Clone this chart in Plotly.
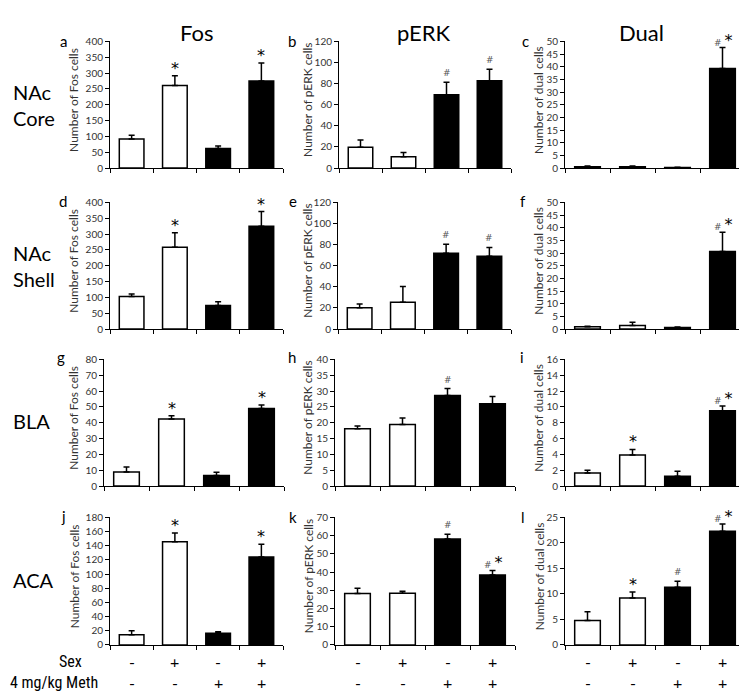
import plotly.graph_objects as go

W, H = 747, 694

# ---------------- data ----------------
groups = [0, 1, 2, 3]
sex_signs = ['-', '+', '-', '+']
meth_signs = ['-', '-', '+', '+']

col_titles = ['Fos', 'pERK', 'Dual']
row_titles = ['NAc<br>Core', 'NAc<br>Shell', 'BLA', 'ACA']
panel_letters = ['a', 'b', 'c', 'd', 'e', 'f', 'g', 'h', 'i', 'j', 'k', 'l']
y_titles = ['Number of Fos cells', 'Number of pERK cells', 'Number of dual cells']

fos_core = [92, 261, 62, 275]
fos_core_err = [12, 31, 8, 57]
perk_core = [19.8, 10.8, 69.6, 82.9]
perk_core_err = [6.8, 4.0, 11.7, 10.8]
dual_core = [0.5, 0.5, 0.2, 39.3]
dual_core_err = [0.3, 0.3, 0.1, 8.3]

fos_shell = [103, 258, 74, 325]
fos_shell_err = [8, 46, 12, 46]
perk_shell = [20.1, 25.4, 71.8, 69.0]
perk_shell_err = [3.7, 14.8, 8.6, 8.3]
dual_shell = [0.9, 1.4, 0.6, 30.6]
dual_shell_err = [0.2, 1.3, 0.2, 7.6]

fos_bla = [8.9, 42.4, 6.6, 49.0]
fos_bla_err = [3.1, 2.0, 2.1, 2.2]
perk_bla = [18.1, 19.4, 28.6, 26.0]
perk_bla_err = [0.9, 2.1, 2.2, 2.3]
dual_bla = [1.65, 3.93, 1.24, 9.5]
dual_bla_err = [0.35, 0.7, 0.62, 0.6]

fos_aca = [14.4, 145.6, 16.7, 124]
fos_aca_err = [5.6, 12.4, 1.9, 18]
perk_aca = [28.2, 28.4, 58.2, 38.4]
perk_aca_err = [2.9, 1.1, 2.5, 2.5]
dual_aca = [4.8, 9.2, 11.3, 22.3]
dual_aca_err = [1.7, 1.2, 1.2, 1.4]

y_max = [400, 120, 50, 400, 120, 50, 80, 40, 16, 180, 70, 25]
y_step = [50, 20, 5, 50, 20, 5, 10, 5, 2, 20, 10, 5]

marks_a = ['', '*', '', '*']
marks_b = ['', '', '#', '#']
marks_c = ['', '', '', '#*']
marks_d = ['', '*', '', '*']
marks_e = ['', '', '#', '#']
marks_f = ['', '', '', '#*']
marks_g = ['', '*', '', '*']
marks_h = ['', '', '#', '']
marks_i = ['', '*', '', '#*']
marks_j = ['', '*', '', '*']
marks_k = ['', '', '#', '#*']
marks_l = ['', '*', '#', '#*']

panels = [
    (fos_core, fos_core_err, marks_a), (perk_core, perk_core_err, marks_b), (dual_core, dual_core_err, marks_c),
    (fos_shell, fos_shell_err, marks_d), (perk_shell, perk_shell_err, marks_e), (dual_shell, dual_shell_err, marks_f),
    (fos_bla, fos_bla_err, marks_g), (perk_bla, perk_bla_err, marks_h), (dual_bla, dual_bla_err, marks_i),
    (fos_aca, fos_aca_err, marks_j), (perk_aca, perk_aca_err, marks_k), (dual_aca, dual_aca_err, marks_l),
]

# ---------------- layout (pixels) ----------------
x_px = [
    [(102, 275), (331, 503), (557, 737)],
    [(102, 275), (330, 503), (557, 737)],
    [(96, 276), (327, 507), (557, 737)],
    [(102, 275), (327, 507), (557, 737)],
]
y_px = [(27, 156), (191, 320), (351, 480), (512, 642)]
letter_px = [
    [(55, 27), (284, 27), (517, 27)],
    [(55, 190), (285, 190), (515, 190)],
    [(53, 349), (284, 349), (514, 349)],
    [(55, 511), (285, 512), (515, 512)],
]
row_title_y = [92, 256, 414, 576]
ytitle_x = [66, 300, 531]

FONT = 'Lato, "Open Sans", sans-serif'
NARROW = '"Liberation Sans Narrow", "Roboto Condensed", Lato, sans-serif'
TXT = '#222'

fig = go.Figure()
layout = dict(
    width=W, height=H, margin=dict(l=0, r=0, t=0, b=0),
    paper_bgcolor='white', plot_bgcolor='white', showlegend=False,
    font=dict(family=FONT, color=TXT), barmode='overlay',
)
annotations = []

def px_x(v):
    return v / W

def px_y(v):
    return 1 - v / H

bar_colors = ['white', 'white', 'black', 'black']
STAR = '<span style="font-family:DejaVu Sans;font-size:16px;color:#000">*</span>'
HASH = '<span style="font-family:DejaVu Sans;font-size:9px;color:#555">#</span>'

for p, (vals, errs, marks) in enumerate(panels):
    r, c = divmod(p, 3)
    sfx = '' if p == 0 else str(p + 1)
    xa, ya = 'x' + sfx, 'y' + sfx
    fig.add_trace(go.Bar(
        x=groups, y=vals, width=0.57, xaxis=xa, yaxis=ya,
        marker=dict(color=bar_colors, line=dict(color='black', width=1.5)),
        error_y=dict(type='data', symmetric=False, array=errs, arrayminus=[0] * 4,
                     color='black', thickness=1.5, width=3),
        hoverinfo='skip',
    ))
    x0, x1 = x_px[r][c]
    yt, yb = y_px[r]
    layout['xaxis' + sfx] = dict(
        domain=[px_x(x0), px_x(x1)], anchor=ya, range=[-0.5, 3.5],
        tickmode='array', tickvals=[-0.5, 0.5, 1.5, 2.5, 3.5], showticklabels=False,
        ticks='outside', ticklen=4, tickwidth=1, tickcolor='black',
        showline=True, linecolor='black', linewidth=1, showgrid=False, zeroline=False,
        fixedrange=True,
    )
    layout['yaxis' + sfx] = dict(
        domain=[px_y(yb), px_y(yt)], anchor=xa, range=[0, y_max[p]],
        tick0=0, dtick=y_step[p], ticks='outside', ticklen=4, tickwidth=1, tickcolor='black',
        tickfont=dict(size=10, color='#333', family=FONT),
        showline=True, linecolor='black', linewidth=1, showgrid=False, zeroline=False,
        fixedrange=True,
    )
    # significance marks
    for i, m in enumerate(marks):
        if not m:
            continue
        if m == '*':
            txt = STAR
        elif m == '#':
            txt = HASH
        else:
            txt = HASH + ' ' + STAR
        annotations.append(dict(
            x=groups[i], y=vals[i] + errs[i], xref=xa, yref=ya, text=txt,
            showarrow=False, xanchor='center', yanchor='bottom', yshift=-4 if '*' in m else 2,
            font=dict(family='DejaVu Sans', color='#000', size=9),
        ))
    # panel letter
    lx, ly = letter_px[r][c]
    annotations.append(dict(
        x=px_x(lx), y=px_y(ly), xref='paper', yref='paper', text=panel_letters[p],
        showarrow=False, xanchor='center', yanchor='middle', font=dict(size=15, color='black', family=FONT),
    ))
    # y title
    annotations.append(dict(
        x=px_x(ytitle_x[c]), y=px_y((yt + yb) / 2 - 5), xref='paper', yref='paper', text=y_titles[c],
        textangle=-90, showarrow=False, xanchor='center', yanchor='middle',
        font=dict(size=12, color='#333', family=FONT),
    ))

# column titles
for c, (t, cx) in enumerate(zip(col_titles, [188, 416, 633])):
    annotations.append(dict(
        x=px_x(cx), y=px_y(18), xref='paper', yref='paper', text=t, showarrow=False,
        xanchor='center', yanchor='middle', font=dict(size=22, color='black', family=FONT),
    ))

# row titles
for t, cy in zip(row_titles, row_title_y):
    annotations.append(dict(
        x=px_x(3), y=px_y(cy), xref='paper', yref='paper', text=t, showarrow=False,
        xanchor='left', yanchor='middle', align='left',
        font=dict(size=20, color='black', family=FONT),
    ))

# bottom condition rows
SEX_Y, METH_Y = 659, 680
annotations.append(dict(
    x=px_x(76), y=px_y(SEX_Y), xref='paper', yref='paper', text='Sex', showarrow=False,
    xanchor='right', yanchor='middle', font=dict(size=16, color='black', family=NARROW),
))
annotations.append(dict(
    x=px_x(0), y=px_y(METH_Y), xref='paper', yref='paper', text='4 mg/kg Meth', showarrow=False,
    xanchor='left', yanchor='middle', font=dict(size=16, color='black', family=NARROW),
))
for cy, signs in [(SEX_Y, sex_signs), (METH_Y, meth_signs)]:
    for xa in ['x10', 'x11', 'x12']:
        for g, s in zip(groups, signs):
            annotations.append(dict(
                x=g, y=px_y(cy), xref=xa, yref='paper', text=s, showarrow=False,
                xanchor='center', yanchor='middle', font=dict(size=16, color='black', family=FONT),
            ))

layout['annotations'] = annotations
fig.update_layout(**layout)
fig.write_html('out.html')
